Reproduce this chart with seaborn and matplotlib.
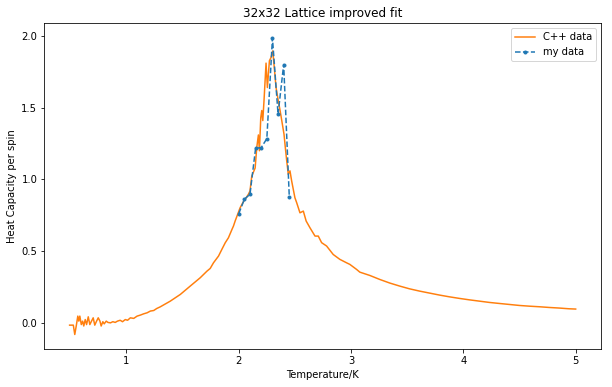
import matplotlib
matplotlib.use("Agg")
import matplotlib.pyplot as plt
import seaborn as sns
import numpy as np

# C++ data (orange)
cpp_T = [0.494, 0.527, 0.540, 0.553, 0.567, 0.576, 0.585, 0.598, 0.610, 0.620,
         0.633, 0.645, 0.660, 0.674, 0.689, 0.704, 0.718, 0.734, 0.749, 0.764,
         0.775, 0.790, 0.802, 0.820, 0.835, 0.858, 0.879, 0.900, 0.920, 0.944,
         0.965, 0.990, 1.010, 1.035, 1.065, 1.095, 1.124, 1.154, 1.184, 1.213,
         1.243, 1.270, 1.300, 1.390, 1.480, 1.568, 1.657, 1.717, 1.746, 1.775,
         1.820, 1.850, 1.880, 1.908, 1.940, 1.953, 1.968, 1.990, 2.012, 2.036,
         2.066, 2.086, 2.100, 2.116, 2.146, 2.160, 2.175, 2.184, 2.196, 2.205,
         2.214, 2.225, 2.243, 2.255, 2.273, 2.288, 2.303, 2.314, 2.332, 2.347,
         2.368, 2.383, 2.403, 2.415, 2.427, 2.441, 2.456, 2.471, 2.500, 2.516,
         2.545, 2.575, 2.600, 2.634, 2.679, 2.708, 2.738, 2.782, 2.841, 2.900,
         2.960, 2.989, 3.049, 3.078, 3.167, 3.256, 3.345, 3.433, 3.520, 3.610,
         3.700, 3.790, 3.877, 3.966, 4.055, 4.144, 4.233, 4.320, 4.410, 4.500,
         4.590, 4.677, 4.766, 4.854, 4.940, 5.000]
cpp_C = [-0.014, -0.014, -0.079, -0.020, 0.049, 0.014, 0.049, -0.010, 0.014, -0.020,
         0.025, -0.010, 0.044, -0.010, 0.014, 0.037, -0.014, 0.014, 0.037, 0.014,
         -0.020, 0.010, -0.005, 0.014, 0.005, 0.002, 0.010, 0.005, 0.014, 0.020,
         0.010, 0.025, 0.020, 0.037, 0.033, 0.049, 0.056, 0.065, 0.072, 0.084,
         0.088, 0.102, 0.113, 0.153, 0.200, 0.258, 0.316, 0.362, 0.381, 0.420,
         0.467, 0.514, 0.560, 0.594, 0.653, 0.676, 0.711, 0.757, 0.803, 0.838,
         0.873, 0.897, 0.920, 1.024, 1.080, 1.220, 1.310, 1.200, 1.430, 1.480,
         1.410, 1.550, 1.810, 1.640, 1.826, 1.850, 1.895, 1.800, 1.640, 1.570,
         1.480, 1.410, 1.315, 1.220, 1.130, 1.036, 1.060, 0.990, 0.873, 0.838,
         0.768, 0.780, 0.711, 0.664, 0.606, 0.606, 0.560, 0.537, 0.478, 0.444,
         0.420, 0.409, 0.374, 0.355, 0.332, 0.304, 0.279, 0.258, 0.239, 0.223,
         0.209, 0.195, 0.183, 0.172, 0.162, 0.153, 0.144, 0.137, 0.130, 0.123,
         0.118, 0.114, 0.109, 0.105, 0.100, 0.098]

# my data (blue)
my_T = [2.00, 2.05, 2.10, 2.15, 2.20, 2.25, 2.30, 2.35, 2.40, 2.45]
my_C = [0.762, 0.862, 0.897, 1.217, 1.222, 1.284, 1.984, 1.454, 1.800, 0.878]

plt.rcParams['font.family'] = ['DejaVu Sans']
fig = plt.figure(figsize=(8.5, 5.375), dpi=72)
ax = fig.add_axes([0.0724, 0.0974, 0.9096, 0.8424])

sns.lineplot(x=cpp_T, y=cpp_C, ax=ax, color='tab:orange', label='C++ data',
             estimator=None, sort=False, linewidth=1.5)
sns.lineplot(x=my_T, y=my_C, ax=ax, color='tab:blue', label='my data',
             estimator=None, sort=False, linestyle='--', marker='.',
             markersize=6, markeredgecolor='tab:blue', markeredgewidth=1,
             linewidth=1.5)

ax.set_title('32x32 Lattice improved fit', fontsize=12)
ax.set_xlabel('Temperature/K', fontsize=10)
ax.set_ylabel('Heat Capacity per spin', fontsize=10)
ax.set_xticks([1, 2, 3, 4, 5])
ax.set_yticks([0.0, 0.5, 1.0, 1.5, 2.0])
ax.tick_params(labelsize=10)
ax.legend(loc='upper right', fontsize=10)

fig.savefig('out.png', dpi=72)
